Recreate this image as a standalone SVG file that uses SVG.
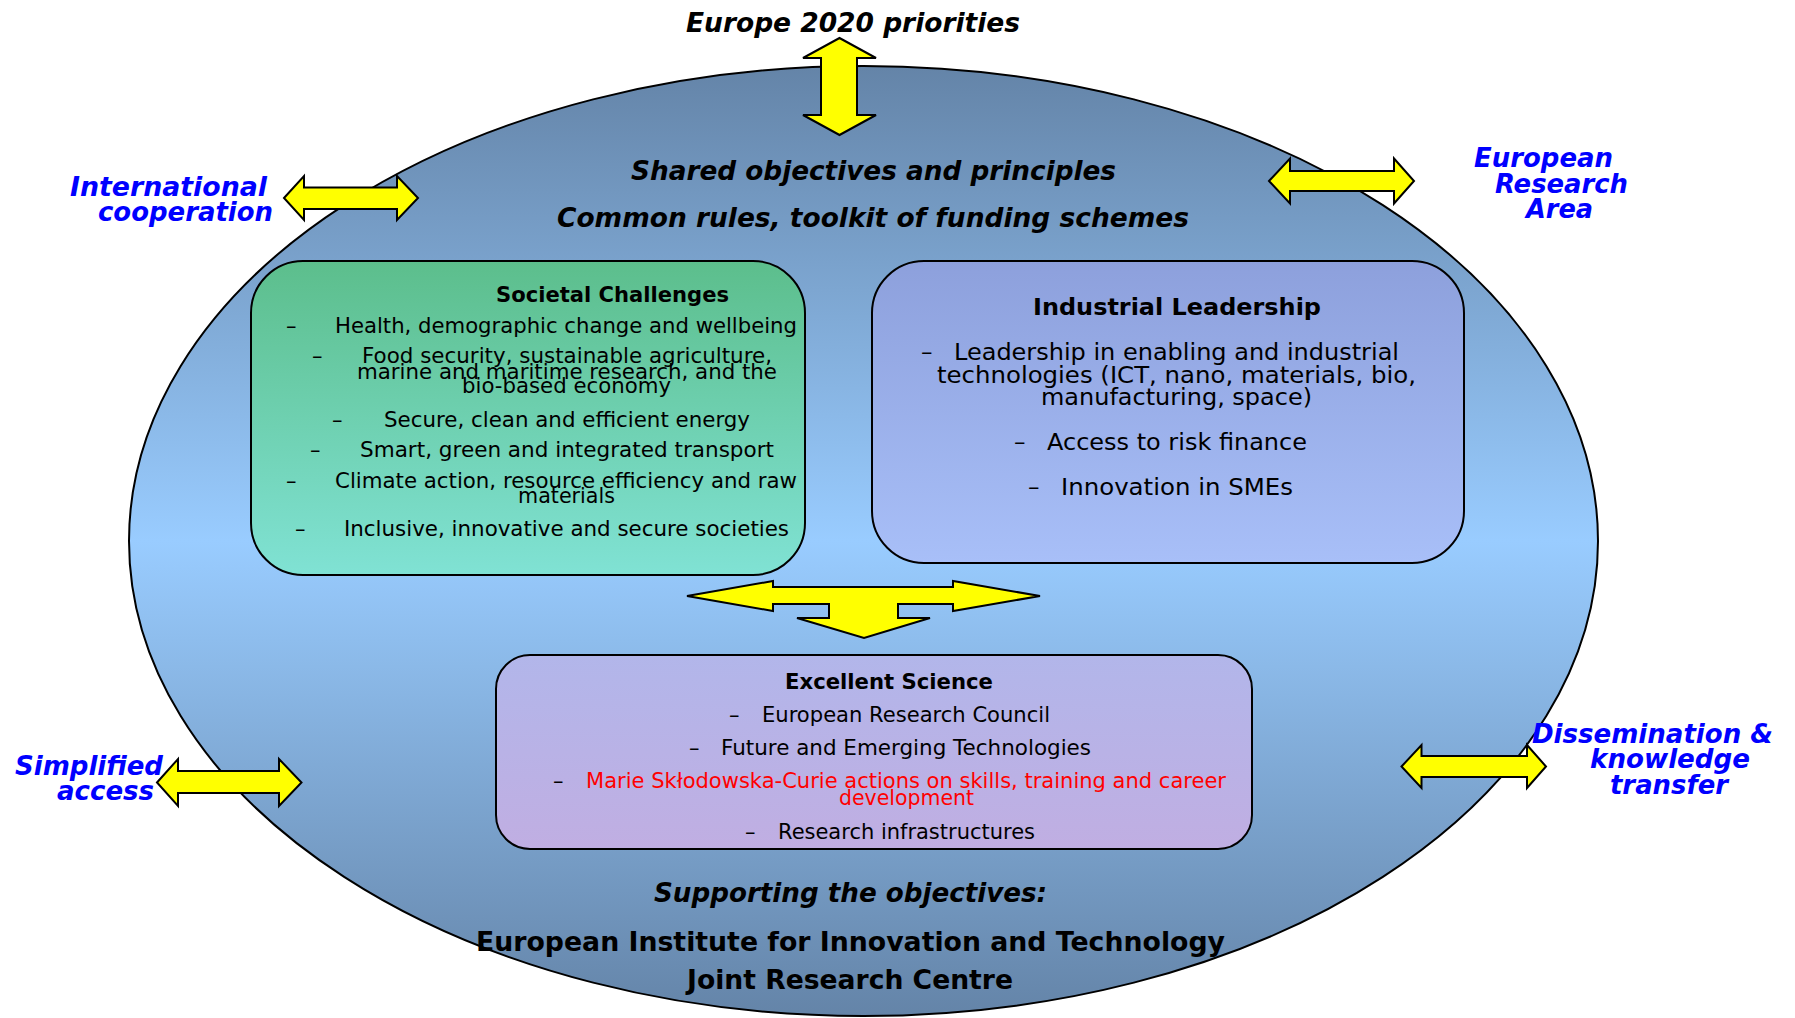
<svg xmlns="http://www.w3.org/2000/svg" width="1795" height="1018" viewBox="0 0 1795 1018">
<defs>
<linearGradient id="gEll" x1="0" y1="0" x2="0" y2="1">
<stop offset="0" stop-color="#6484a8"/>
<stop offset="0.5" stop-color="#99ccff"/>
<stop offset="1" stop-color="#6484a8"/>
</linearGradient>
<linearGradient id="gSoc" x1="0" y1="0" x2="0" y2="1">
<stop offset="0" stop-color="#5cbe8c"/>
<stop offset="1" stop-color="#80e2d4"/>
</linearGradient>
<linearGradient id="gInd" x1="0" y1="0" x2="0" y2="1">
<stop offset="0" stop-color="#8da0dc"/>
<stop offset="1" stop-color="#a8bff8"/>
</linearGradient>
<linearGradient id="gExc" x1="0" y1="0" x2="0" y2="1">
<stop offset="0" stop-color="#b2b6ea"/>
<stop offset="1" stop-color="#c0aee2"/>
</linearGradient>
<style>
.t{font-family:"DejaVu Sans","Liberation Sans",sans-serif;font-size:21px;fill:#000}
.ti{font-size:23px}
.b{font-weight:bold}
.bi{font-family:"DejaVu Sans","Liberation Sans",sans-serif;font-weight:bold;font-style:italic;font-size:26px;fill:#000}
.big{font-family:"DejaVu Sans","Liberation Sans",sans-serif;font-weight:bold;font-size:27px;fill:#000}
.blue{font-family:"DejaVu Sans","Liberation Sans",sans-serif;font-weight:bold;font-style:italic;font-size:26px;fill:#0000ff}
.red{fill:#ff0000}
.box{stroke:#000;stroke-width:2}
.arrow{fill:#ffff00;stroke:#000;stroke-width:2;stroke-linejoin:miter}
</style>
</defs>

<g id="programme">
<ellipse cx="863.5" cy="541" rx="734.5" ry="475" fill="url(#gEll)" stroke="#000" stroke-width="2"/>
<text class="bi" x="631" y="180" textLength="485" lengthAdjust="spacingAndGlyphs">Shared objectives and principles</text>
<text class="bi" x="557" y="227" textLength="632" lengthAdjust="spacingAndGlyphs">Common rules, toolkit of funding schemes</text>
<text class="bi" x="654" y="902" textLength="393" lengthAdjust="spacingAndGlyphs">Supporting the objectives:</text>
<text class="big" x="476" y="951" textLength="749" lengthAdjust="spacingAndGlyphs">European Institute for Innovation and Technology</text>
<text class="big" x="687" y="989" textLength="326" lengthAdjust="spacingAndGlyphs">Joint Research Centre</text>
</g>

<g id="europe2020">
<text class="bi" x="686" y="32" textLength="334" lengthAdjust="spacingAndGlyphs">Europe 2020 priorities</text>
</g>

<g id="international-cooperation">
<text class="blue" x="70" y="196" textLength="197" lengthAdjust="spacingAndGlyphs">International</text>
<text class="blue" x="98" y="221" textLength="175" lengthAdjust="spacingAndGlyphs">cooperation</text>
</g>

<g id="european-research-area">
<text class="blue" x="1474" y="167" textLength="139" lengthAdjust="spacingAndGlyphs">European</text>
<text class="blue" x="1495" y="193" textLength="133" lengthAdjust="spacingAndGlyphs">Research</text>
<text class="blue" x="1526" y="218" textLength="67" lengthAdjust="spacingAndGlyphs">Area</text>
</g>

<g id="simplified-access">
<text class="blue" x="15" y="775" textLength="148" lengthAdjust="spacingAndGlyphs">Simplified</text>
<text class="blue" x="57" y="800" textLength="97" lengthAdjust="spacingAndGlyphs">access</text>
</g>

<g id="dissemination">
<text class="blue" x="1532" y="743" textLength="241" lengthAdjust="spacingAndGlyphs">Dissemination &amp;</text>
<text class="blue" x="1590" y="768" textLength="160" lengthAdjust="spacingAndGlyphs">knowledge</text>
<text class="blue" x="1610" y="794" textLength="118" lengthAdjust="spacingAndGlyphs">transfer</text>
</g>

<g id="societal-challenges">
<rect class="box" x="251" y="261" width="554" height="314" rx="52" ry="52" fill="url(#gSoc)"/>
<text class="t b" x="496" y="302" textLength="233" lengthAdjust="spacingAndGlyphs">Societal Challenges</text>
<text class="t" x="286" y="333">–</text>
<text class="t" x="335" y="333" textLength="462" lengthAdjust="spacingAndGlyphs">Health, demographic change and wellbeing</text>
<text class="t" x="312" y="363">–</text>
<text class="t" x="362" y="363" textLength="410" lengthAdjust="spacingAndGlyphs">Food security, sustainable agriculture,</text>
<text class="t" x="357" y="379" textLength="420" lengthAdjust="spacingAndGlyphs">marine and maritime research, and the</text>
<text class="t" x="462" y="393" textLength="209" lengthAdjust="spacingAndGlyphs">bio-based economy</text>
<text class="t" x="332" y="427">–</text>
<text class="t" x="384" y="427" textLength="366" lengthAdjust="spacingAndGlyphs">Secure, clean and efficient energy</text>
<text class="t" x="310" y="457">–</text>
<text class="t" x="360" y="457" textLength="414" lengthAdjust="spacingAndGlyphs">Smart, green and integrated transport</text>
<text class="t" x="286" y="488">–</text>
<text class="t" x="335" y="488" textLength="462" lengthAdjust="spacingAndGlyphs">Climate action, resource efficiency and raw</text>
<text class="t" x="518" y="503" textLength="97" lengthAdjust="spacingAndGlyphs">materials</text>
<text class="t" x="295" y="536">–</text>
<text class="t" x="344" y="536" textLength="445" lengthAdjust="spacingAndGlyphs">Inclusive, innovative and secure societies</text>
</g>

<g id="industrial-leadership">
<rect class="box" x="872" y="261" width="592" height="302" rx="52" ry="52" fill="url(#gInd)"/>
<text class="t ti b" x="1033" y="315" textLength="288" lengthAdjust="spacingAndGlyphs">Industrial Leadership</text>
<text class="t ti" x="921" y="360">–</text>
<text class="t ti" x="954" y="360" textLength="445" lengthAdjust="spacingAndGlyphs">Leadership in enabling and industrial</text>
<text class="t ti" x="937" y="383" textLength="479" lengthAdjust="spacingAndGlyphs">technologies (ICT, nano, materials, bio,</text>
<text class="t ti" x="1041" y="405" textLength="271" lengthAdjust="spacingAndGlyphs">manufacturing, space)</text>
<text class="t ti" x="1014" y="450">–</text>
<text class="t ti" x="1047" y="450" textLength="260" lengthAdjust="spacingAndGlyphs">Access to risk finance</text>
<text class="t ti" x="1028" y="495">–</text>
<text class="t ti" x="1061" y="495" textLength="232" lengthAdjust="spacingAndGlyphs">Innovation in SMEs</text>
</g>

<g id="excellent-science">
<rect class="box" x="496" y="655" width="756" height="194" rx="34" ry="34" fill="url(#gExc)"/>
<text class="t b" x="785" y="689" textLength="208" lengthAdjust="spacingAndGlyphs">Excellent Science</text>
<text class="t" x="729" y="722">–</text>
<text class="t" x="762" y="722" textLength="288" lengthAdjust="spacingAndGlyphs">European Research Council</text>
<text class="t" x="689" y="755">–</text>
<text class="t" x="721" y="755" textLength="370" lengthAdjust="spacingAndGlyphs">Future and Emerging Technologies</text>
<text class="t" x="553" y="788">–</text>
<text class="t red" x="586" y="788" textLength="640" lengthAdjust="spacingAndGlyphs">Marie Skłodowska-Curie actions on skills, training and career</text>
<text class="t red" x="839" y="805" textLength="135" lengthAdjust="spacingAndGlyphs">development</text>
<text class="t" x="745" y="839">–</text>
<text class="t" x="778" y="839" textLength="257" lengthAdjust="spacingAndGlyphs">Research infrastructures</text>
</g>

<g id="connectors">
<polygon class="arrow" points="839.5,38 876,58 857,58 857,115 876,115 839.5,135 803,115 821,115 821,58 803,58"/>
<polygon class="arrow" points="284,198 304,176 304,187.5 397,187.5 397,176 418,198 397,220 397,209 304,209 304,220"/>
<polygon class="arrow" points="1269,181 1290,158.5 1290,171 1394,171 1394,158.5 1414,181 1394,203.5 1394,191 1290,191 1290,203.5"/>
<polygon class="arrow" points="157,782.5 178,759 178,771 279,771 279,759 301.5,782.5 279,806 279,793 178,793 178,806"/>
<polygon class="arrow" points="1401.5,766.5 1421.5,745 1421.5,756 1527,756 1527,745 1546,766.5 1527,788 1527,777 1421.5,777 1421.5,788"/>
<polygon class="arrow" points="687,596 773,581 773,587 953,587 953,581 1040,596 953,611 953,604 898,604 898,618 930,618 864,638 797,618 829,618 829,604 773,604 773,611"/>
</g>
</svg>
